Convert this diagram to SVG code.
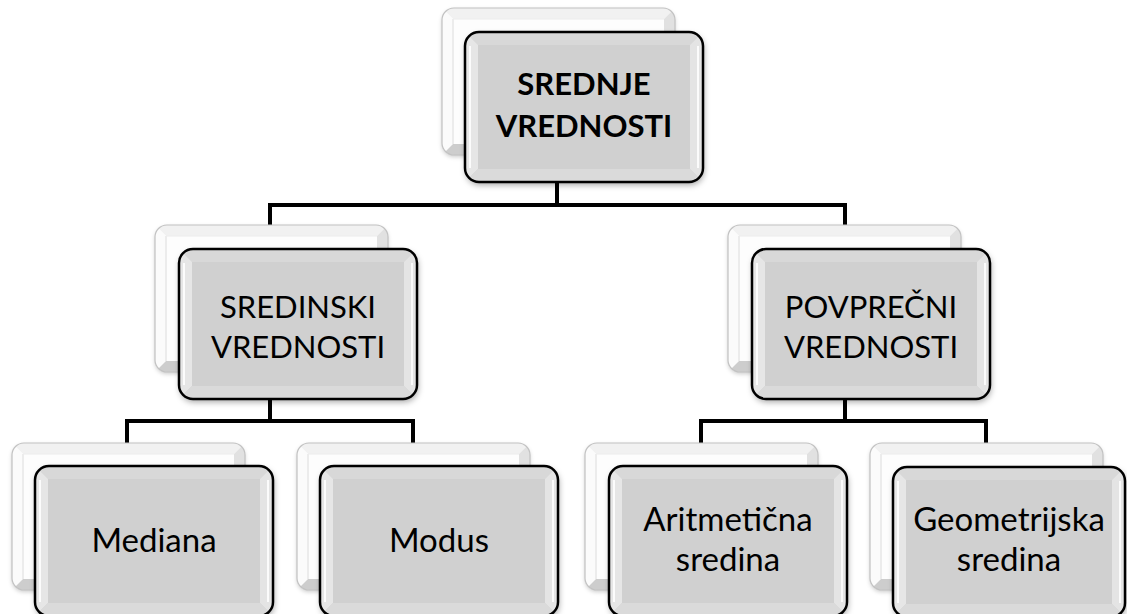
<svg xmlns="http://www.w3.org/2000/svg" xmlns:xlink="http://www.w3.org/1999/xlink" width="1127" height="614" viewBox="0 0 1127 614">
<style>
  .t { font-family: Lato, "Open Sans", "Liberation Sans", sans-serif; font-size: 33px; fill: #000; text-anchor: middle; }
  .m { font-size: 31px; }
  .b { font-weight: bold; font-size: 31px; }
  .conn { fill: none; stroke: #000; stroke-width: 4; stroke-linejoin: miter; }
</style>
<defs>
  <filter id="sh" x="-10%" y="-10%" width="125%" height="130%">
    <feDropShadow dx="1" dy="3" stdDeviation="3" flood-color="#000" flood-opacity="0.35"/>
  </filter>
  <filter id="shb" x="-10%" y="-10%" width="125%" height="130%">
    <feDropShadow dx="0" dy="2" stdDeviation="2" flood-color="#000" flood-opacity="0.2"/>
  </filter>
  <clipPath id="cb"><rect width="233" height="147" rx="12"/></clipPath>
  <clipPath id="cf"><rect width="238" height="150" rx="14"/></clipPath>
  <clipPath id="cf2"><rect width="232" height="150" rx="14"/></clipPath>
  <g id="back">
    <rect width="233" height="147" rx="12" fill="#f2f2f2" filter="url(#shb)"/>
    <g clip-path="url(#cb)">
      <rect width="233" height="147" fill="#fdfdfd"/>
      <polygon points="0,0 233,0 222,11 11,11" fill="#f1f1f1"/>
      <polygon points="0,0 11,11 11,136 0,147" fill="#fbfbfb"/>
      <polygon points="233,0 233,147 222,136 222,11" fill="#e1e1e1"/>
      <polygon points="0,147 11,136 222,136 233,147" fill="#cdcdcd"/>
      <line x1="11" y1="11" x2="11" y2="136" stroke="#dcdcdc" stroke-width="1"/>
      <line x1="11" y1="11" x2="222" y2="11" stroke="#ececec" stroke-width="1"/>
    </g>
    <rect width="233" height="147" rx="12" fill="none" stroke="#c2c2c2" stroke-width="1.2"/>
  </g>
  <g id="front">
    <rect width="238" height="150" rx="14" fill="#d0d0d0" filter="url(#sh)"/>
    <g clip-path="url(#cf)">
      <rect width="238" height="150" fill="#d0d0d0"/>
      <polygon points="0,0 238,0 225,13 13,13" fill="#d8d8d8"/>
      <polygon points="0,0 13,13 13,137 0,150" fill="#e6e6e6"/>
      <polygon points="238,0 238,150 225,137 225,13" fill="#e4e4e4"/>
      <polygon points="0,150 13,137 225,137 238,150" fill="#dadada"/>
      <line x1="5" y1="14" x2="5" y2="136" stroke="#ffffff" stroke-width="2" stroke-opacity="0.85"/>
      <line x1="233" y1="14" x2="233" y2="136" stroke="#ffffff" stroke-width="2" stroke-opacity="0.85"/>
    </g>
    <rect width="238" height="150" rx="14" fill="none" stroke="#000" stroke-width="2.5"/>
  </g>
  <g id="front2">
    <rect width="232" height="150" rx="14" fill="#d0d0d0" filter="url(#sh)"/>
    <g clip-path="url(#cf2)">
      <rect width="232" height="150" fill="#d0d0d0"/>
      <polygon points="0,0 232,0 219,13 13,13" fill="#d8d8d8"/>
      <polygon points="0,0 13,13 13,137 0,150" fill="#e6e6e6"/>
      <polygon points="232,0 232,150 219,137 219,13" fill="#e4e4e4"/>
      <polygon points="0,150 13,137 219,137 232,150" fill="#dadada"/>
      <line x1="5" y1="14" x2="5" y2="136" stroke="#ffffff" stroke-width="2" stroke-opacity="0.85"/>
      <line x1="227" y1="14" x2="227" y2="136" stroke="#ffffff" stroke-width="2" stroke-opacity="0.85"/>
    </g>
    <rect width="232" height="150" rx="14" fill="none" stroke="#000" stroke-width="2.5"/>
  </g>
</defs>

<g id="connectors">
  <path class="conn" d="M557,182 V205 M270,225 V205 H845 V225"/>
  <path class="conn" d="M270,400 V421 M127,443 V421 H413 V443"/>
  <path class="conn" d="M845,400 V421 M701,443 V421 H986 V443"/>
</g>

<g id="node-srednje">
  <use xlink:href="#back" transform="translate(442,8)"/>
  <use xlink:href="#front" transform="translate(465,32)"/>
  <text class="t b" x="584" y="95">SREDNJE</text>
  <text class="t b" x="584" y="137">VREDNOSTI</text>
</g>

<g id="node-sredinski">
  <use xlink:href="#back" transform="translate(155,225)"/>
  <use xlink:href="#front" transform="translate(179,249)"/>
  <text class="t m" x="298" y="318">SREDINSKI</text>
  <text class="t m" x="298" y="358">VREDNOSTI</text>
</g>

<g id="node-povprecni">
  <use xlink:href="#back" transform="translate(728,225)"/>
  <use xlink:href="#front" transform="translate(752,249)"/>
  <text class="t m" x="871" y="318">POVPREČNI</text>
  <text class="t m" x="871" y="358">VREDNOSTI</text>
</g>

<g id="node-mediana">
  <use xlink:href="#back" transform="translate(12,443)"/>
  <use xlink:href="#front" transform="translate(35,466)"/>
  <text class="t" x="154" y="552">Mediana</text>
</g>

<g id="node-modus">
  <use xlink:href="#back" transform="translate(297,443)"/>
  <use xlink:href="#front" transform="translate(320,466)"/>
  <text class="t" x="439" y="552">Modus</text>
</g>

<g id="node-aritmeticna">
  <use xlink:href="#back" transform="translate(585,443)"/>
  <use xlink:href="#front" transform="translate(609,466)"/>
  <text class="t" x="728" y="531">Aritmetična</text>
  <text class="t" x="728" y="571">sredina</text>
</g>

<g id="node-geometrijska">
  <use xlink:href="#back" transform="translate(870,443)"/>
  <use xlink:href="#front2" transform="translate(893,467)"/>
  <text class="t" x="1009" y="531">Geometrijska</text>
  <text class="t" x="1009" y="571">sredina</text>
</g>
</svg>
